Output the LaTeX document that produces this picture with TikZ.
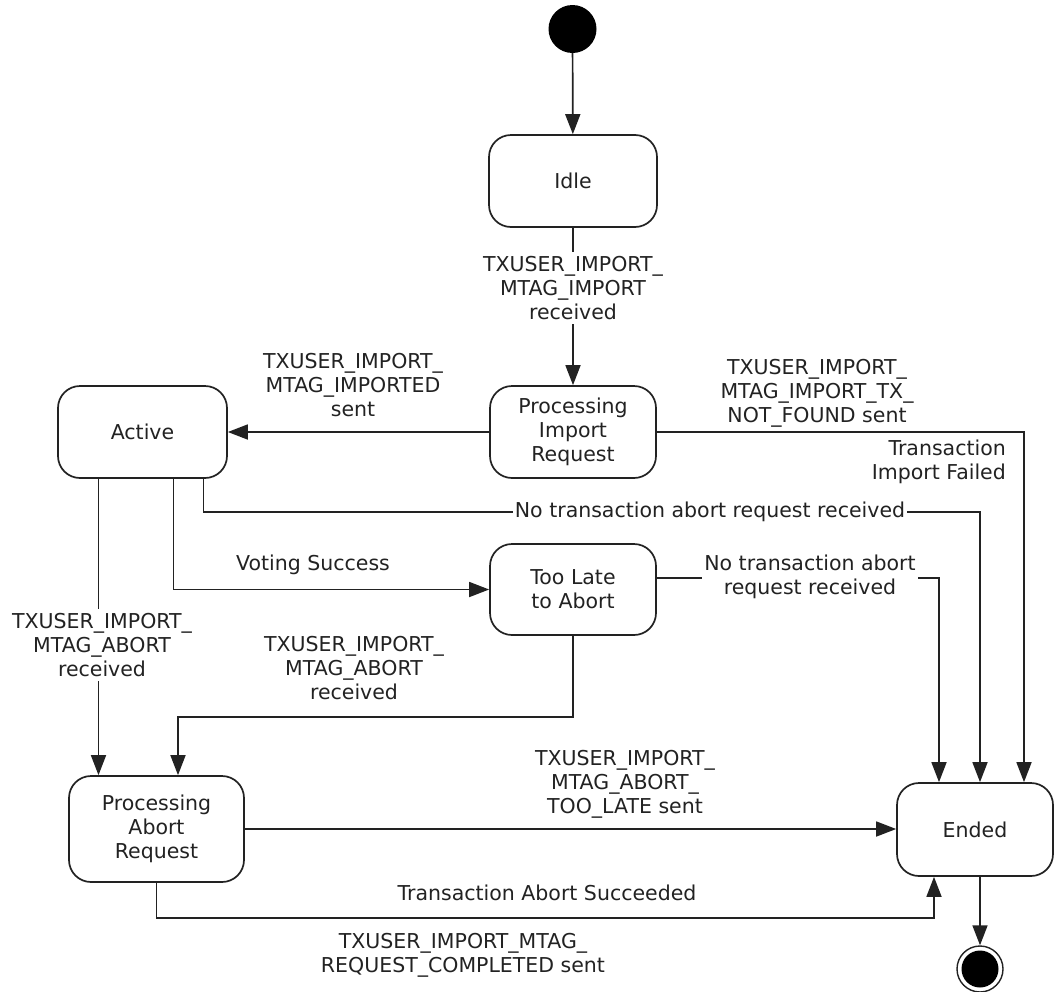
\documentclass[tikz,border=0pt]{standalone}
\usepackage{fontspec}
\setmainfont{DejaVu Sans}
\usetikzlibrary{arrows.meta}
\definecolor{ink}{HTML}{222222}
\begin{document}
\begin{tikzpicture}[x=1pt,y=-1pt,
  every node/.style={font=\fontsize{20.5}{24}\selectfont, text=ink},
  state/.style={draw=ink, line width=1.7pt, rounded corners=22pt, fill=white, align=center, inner sep=0pt},
  lbl/.style={align=center, inner sep=2pt},
  onln/.style={lbl, fill=white},
  arr/.style={draw=ink, line width=1.7pt, -{Triangle[length=20pt,width=15pt]}},
  ln/.style={draw=ink, line width=1.7pt}]
\useasboundingbox (0,0) rectangle (1055,991);

% states
\node[circle, fill=black, minimum size=48pt, inner sep=0pt] (init) at (572.5,29) {};
\node[state, minimum width=168pt, minimum height=92pt] (Idle) at (573,181) {Idle};
\node[state, minimum width=166pt, minimum height=92pt] (PIR) at (573,432) {Processing\\Import\\Request};
\node[state, minimum width=169pt, minimum height=92pt] (Active) at (142.5,432) {Active};
\node[state, minimum width=166pt, minimum height=91pt] (TLA) at (573,589.5) {Too Late\\to Abort};
\node[state, minimum width=175pt, minimum height=106pt] (PAR) at (156.5,829) {Processing\\Abort\\Request};
\node[state, minimum width=156pt, minimum height=93pt] (Ended) at (975,829.5) {Ended};
\node[circle, draw=ink, line width=1.4pt, minimum size=46pt, inner sep=0pt] (final) at (980,969) {};
\node[circle, fill=black, minimum size=37pt, inner sep=0pt] (finaldot) at (final) {};

% helper coordinates
\coordinate (c1) at (980,512);
\coordinate (c2) at (939,578);
\coordinate (c3) at (573,717);
\coordinate (c4) at (934,918);
\coordinate (c5) at (1024,432);

% connectors
\draw[arr] (init) -- (Idle);
\draw[arr] (Idle) -- (PIR);
\draw[arr] (PIR) -- (Active);
\draw[arr] (PIR.east) -- (c5) -- (c5 |- Ended.north);
\draw[arr] ([xshift=61pt]Active.south) |- (c1) -- (c1 |- Ended.north);
\draw[arr] ([xshift=31pt]Active.south) |- (TLA.west);
\draw[arr] (TLA.east |- c2) -- (c2) -- (c2 |- Ended.north);
\draw[arr] ([xshift=-44pt]Active.south) -- ([xshift=-44pt]Active.south |- PAR.north);
\draw[arr] (TLA.south) -- (c3) -| ([xshift=21.5pt]PAR.north);
\draw[arr] (PAR.east) -- (PAR.east -| Ended.west);
\draw[arr] (PAR.south) |- (c4) -- (c4 |- Ended.south);
\draw[arr] (Ended.south -| final) -- (final.north);

% labels
\node[onln, inner sep=4pt] (l1) at (573,288) {TXUSER\_IMPORT\_\\MTAG\_IMPORT\\received};
\node[lbl] (l2) at (353,385) {TXUSER\_IMPORT\_\\MTAG\_IMPORTED\\sent};
\node[lbl] (l3) at (817,393) {TXUSER\_IMPORT\_\\MTAG\_IMPORT\_TX\_\\NOT\_FOUND sent};
\node[lbl, align=right, anchor=east] (l4) at (1008,462) {Transaction\\Import Failed};
\node[onln] (l5) at (710,512) {No transaction abort request received};
\node[lbl] (l6) at (313,565) {Voting Success};
\node[onln] (l7) at (810,577) {No transaction abort\\request received};
\node[onln, inner sep=4pt] (l8) at (102,645) {TXUSER\_IMPORT\_\\MTAG\_ABORT\\received};
\node[lbl] (l9) at (354,668) {TXUSER\_IMPORT\_\\MTAG\_ABORT\\received};
\node[lbl] (l10) at (625,784) {TXUSER\_IMPORT\_\\MTAG\_ABORT\_\\TOO\_LATE sent};
\node[lbl] (l11) at (547,893) {Transaction Abort Succeeded};
\node[lbl] (l12) at (463,955) {TXUSER\_IMPORT\_MTAG\_\\REQUEST\_COMPLETED sent};
\end{tikzpicture}
\end{document}
